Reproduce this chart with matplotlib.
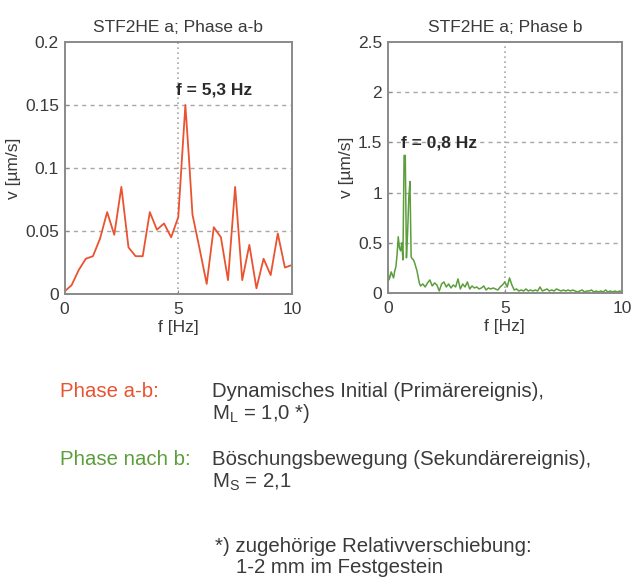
import matplotlib
matplotlib.use("Agg")
import matplotlib.pyplot as plt

plt.rcParams['font.family'] = ['Liberation Sans', 'DejaVu Sans']
plt.rcParams['mathtext.fontset'] = 'custom'
plt.rcParams['mathtext.rm'] = 'Liberation Sans'
plt.rcParams['mathtext.it'] = 'Liberation Sans:italic'

# ---- data ----
f_ab = [0.0, 0.3125, 0.625, 0.9375, 1.25, 1.5625, 1.875, 2.1875, 2.5, 2.8125,
        3.125, 3.4375, 3.75, 4.0625, 4.375, 4.6875, 5.0, 5.3125, 5.47, 5.625,
        5.9375, 6.25, 6.5625, 6.875, 7.1875, 7.5, 7.8125, 8.125, 8.4375, 8.75,
        9.0625, 9.375, 9.6875, 10.0]
v_ab = [0.002, 0.007, 0.019, 0.028, 0.030, 0.044, 0.065, 0.047, 0.085, 0.037,
        0.030, 0.030, 0.065, 0.051, 0.056, 0.045, 0.061, 0.150, 0.108, 0.063,
        0.036, 0.008, 0.053, 0.045, 0.011, 0.085, 0.011, 0.039, 0.0045, 0.028,
        0.015, 0.048, 0.021, 0.023]

f_b = [0.00, 0.05, 0.10, 0.15, 0.20, 0.25, 0.30, 0.35, 0.40, 0.45, 0.50, 0.55,
       0.60, 0.65, 0.70, 0.75, 0.80, 0.85, 0.90, 0.95, 1.00, 1.05, 1.10, 1.15,
       1.20, 1.25, 1.30, 1.35, 1.40, 1.5, 1.6, 1.7, 1.8, 1.9, 2.0, 2.1, 2.2,
       2.3, 2.4, 2.5, 2.6, 2.7, 2.8, 2.9, 3.0, 3.1, 3.2, 3.3, 3.4, 3.5, 3.6,
       3.7, 3.8, 3.9, 4.0, 4.1, 4.2, 4.3, 4.4, 4.5, 4.6, 4.7, 4.8, 4.9, 5.0,
       5.1, 5.2, 5.3, 5.4, 5.5, 5.6, 5.7, 5.8, 5.9, 6.0, 6.1, 6.2, 6.3, 6.4,
       6.5, 6.6, 6.7, 6.8, 6.9, 7.0, 7.1, 7.2, 7.3, 7.4, 7.5, 7.6, 7.7, 7.8,
       7.9, 8.0, 8.1, 8.2, 8.3, 8.4, 8.5, 8.6, 8.7, 8.8, 8.9, 9.0, 9.1, 9.2,
       9.3, 9.4, 9.5, 9.6, 9.7, 9.8, 9.9, 10.0]
v_b = [0.28, 0.13, 0.16, 0.21, 0.18, 0.15, 0.22, 0.26, 0.38, 0.56, 0.45, 0.42,
       0.50, 0.33, 1.37, 1.37, 0.35, 0.60, 0.95, 1.11, 0.36, 0.34, 0.33, 0.30,
       0.26, 0.22, 0.16, 0.10, 0.07, 0.09, 0.06, 0.10, 0.13, 0.07, 0.10, 0.08, 0.02,
       0.09, 0.11, 0.06, 0.09, 0.05, 0.08, 0.06, 0.14, 0.04, 0.09, 0.06, 0.11, 0.04, 0.07,
       0.05, 0.06, 0.04, 0.05, 0.07, 0.03, 0.05, 0.04, 0.05, 0.04, 0.03, 0.06, 0.08, 0.11,
       0.06, 0.15, 0.08, 0.03, 0.04, 0.02, 0.03, 0.02, 0.04, 0.02, 0.03, 0.02, 0.03, 0.02,
       0.06, 0.02, 0.03, 0.04, 0.02, 0.03, 0.02, 0.04, 0.03, 0.02, 0.03, 0.02, 0.03, 0.02,
       0.03, 0.02, 0.01, 0.02, 0.03, 0.01, 0.02, 0.02, 0.03, 0.01, 0.02, 0.01, 0.02, 0.01,
       0.03, 0.01, 0.02, 0.01, 0.02, 0.01, 0.02, 0.01]

xticks = [0, 5, 10]
yticks_ab = [0, 0.05, 0.1, 0.15, 0.2]
ytl_ab = ['0', '0.05', '0.1', '0.15', '0.2']
yticks_b = [0, 0.5, 1, 1.5, 2, 2.5]
ytl_b = ['0', '0.5', '1', '1.5', '2', '2.5']

RED = '#ea5330'
GREEN = '#5c9e3c'
TXT = '#3a3a3a'
W, H = 634, 585

fig = plt.figure(figsize=(W / 100, H / 100), dpi=100)
fig.patch.set_facecolor('white')


def px(x, y):
    return x / W, 1 - y / H


def style_ax(ax, yt, ytl, ymax):
    ax.set_xlim(0, 10)
    ax.set_ylim(0, ymax)
    ax.set_xticks(xticks)
    ax.set_xticklabels([str(t) for t in xticks])
    ax.set_yticks(yt)
    ax.set_yticklabels(ytl)
    for s in ax.spines.values():
        s.set_color('#8a8a8a')
        s.set_linewidth(1.4)
    ax.tick_params(direction='in', length=3, color='#8a8a8a', labelsize=12.5,
                   labelcolor=TXT, pad=4)
    ax.tick_params(axis='x', pad=6)
    for y in yt[1:-1]:
        ax.axhline(y, color='#a8a8a8', lw=1.0, ls=(0, (3, 3)), zorder=0)
    ax.axvline(5, color='#a8a8a8', lw=1.2, ls=(0, (1, 2)), zorder=0)
    ax.set_xlabel('f [Hz]', fontsize=12.5, color=TXT, labelpad=2)
    ax.set_ylabel('v [µm/s]', fontsize=12.5, color=TXT, labelpad=3)


ax1 = fig.add_axes([64.5 / W, 1 - 294 / H, (292 - 64.5) / W, (294 - 42) / H])
ax1.plot(f_ab, v_ab, color=RED, lw=1.3)
style_ax(ax1, yticks_ab, ytl_ab, 0.2)
ax1.set_title('STF2HE a; Phase a-b', fontsize=12.5, color=TXT, pad=7)
ax1.text(4.89, 0.158, 'f = 5,3 Hz', fontsize=12.5, fontweight='bold', color='#2a2a2a')

ax2 = fig.add_axes([387.7 / W, 1 - 293 / H, (622 - 387.7) / W, (293 - 42) / H])
ax2.plot(f_b, v_b, color=GREEN, lw=1.1)
style_ax(ax2, yticks_b, ytl_b, 2.5)
ax2.set_title('STF2HE a; Phase b', fontsize=12.5, color=TXT, pad=7)
ax2.text(0.57, 1.45, 'f = 0,8 Hz', fontsize=12.5, fontweight='bold', color='#2a2a2a')

fs = 14.7
fig.text(*px(60, 397), 'Phase a-b:', fontsize=fs, color=RED, va='baseline')
fig.text(*px(212, 397), 'Dynamisches Initial (Primärereignis),', fontsize=fs, color=TXT, va='baseline')
fig.text(*px(212, 419), r'M$_\mathrm{L}$ = 1,0 *)', fontsize=fs, color=TXT, va='baseline')
fig.text(*px(60, 465), 'Phase nach b:', fontsize=fs, color=GREEN, va='baseline')
fig.text(*px(212, 465), 'Böschungsbewegung (Sekundärereignis),', fontsize=fs, color=TXT, va='baseline')
fig.text(*px(212, 488), r'M$_\mathrm{S}$ = 2,1', fontsize=fs, color=TXT, va='baseline')
fig.text(*px(215, 552), '*) zugehörige Relativverschiebung:', fontsize=fs, color=TXT, va='baseline')
fig.text(*px(236, 573), '1-2 mm im Festgestein', fontsize=fs, color=TXT, va='baseline')

fig.savefig('out.png', dpi=100)
